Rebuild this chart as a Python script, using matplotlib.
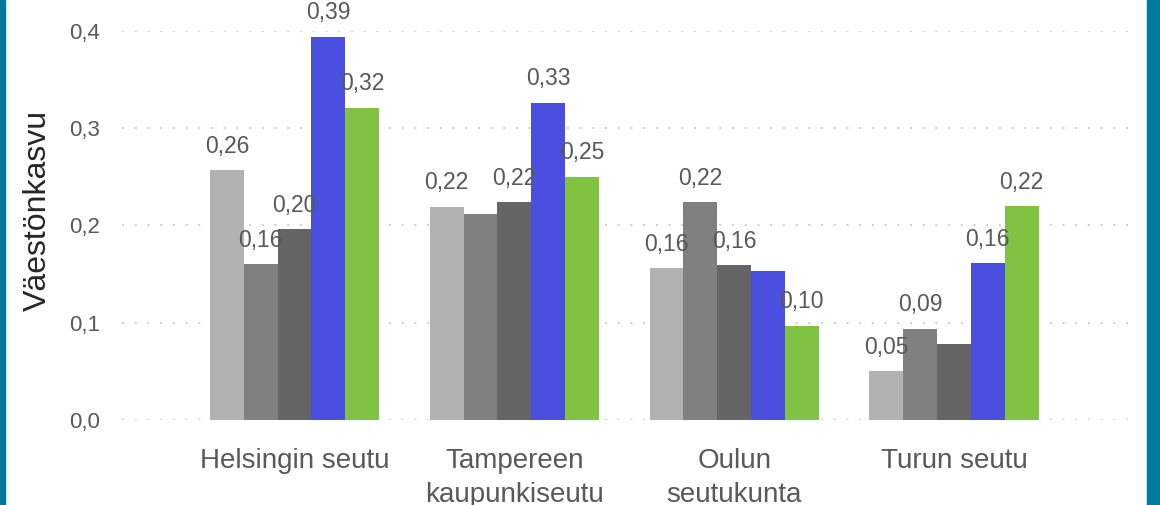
import matplotlib
matplotlib.use("Agg")
import matplotlib.pyplot as plt
import numpy as np
from matplotlib.patches import Rectangle

plt.rcParams['font.family'] = ['Liberation Sans', 'DejaVu Sans']

# categories and the five series
regions = ["Helsingin seutu", "Tampereen\nkaupunkiseutu", "Oulun\nseutukunta", "Turun seutu"]
s1 = [0.257, 0.219, 0.156, 0.050]
s2 = [0.160, 0.212, 0.224, 0.094]
s3 = [0.196, 0.224, 0.159, 0.078]
s4 = [0.394, 0.326, 0.153, 0.161]
s5 = [0.321, 0.250, 0.097, 0.220]
series = [s1, s2, s3, s4, s5]
colors = ["#B2B2B2", "#808080", "#656565", "#4B4FDF", "#80C242"]
# which data labels are visible in the original (one row per series)
show_label = [
    [True, True, True, True],
    [True, False, True, True],
    [True, True, True, False],
    [True, True, False, True],
    [True, True, True, True],
]
yticks = [0.0, 0.1, 0.2, 0.3, 0.4]

fig = plt.figure(figsize=(11.6, 5.05), dpi=100)
ax = fig.add_axes([122/1160, 85/505, 1010/1160, 389/505])

x = np.arange(len(regions))
group_w = 0.77
bw = group_w / len(series)
for i, (vals, col) in enumerate(zip(series, colors)):
    xs = x - group_w/2 + bw*(i + 0.5)
    ax.bar(xs, vals, width=bw, color=col, zorder=3)
    for xi, v, show in zip(xs, vals, show_label[i]):
        if show:
            ax.annotate(f"{v:.2f}".replace(".", ","), (xi, v), xytext=(0, 17.3),
                        textcoords="offset points", ha="center", va="center",
                        fontsize=16.5, color="#595959", zorder=4)

ax.set_xlim(-0.785, 3.81)
ax.set_ylim(0, 0.4)
ax.set_yticks(yticks)
ax.set_yticklabels([f"{t:.1f}".replace(".", ",") for t in yticks], fontsize=16, color="#595959")
ax.set_xticks(x)
ax.set_xticklabels(regions, fontsize=20, color="#595959", linespacing=1.4)
ax.tick_params(axis="both", length=0)
ax.tick_params(axis="y", pad=16)
ax.tick_params(axis="x", pad=20)
for sp in ax.spines.values():
    sp.set_visible(False)
ax.yaxis.grid(True, color="#D0D0D0", linestyle=(0, (1, 5.1)), linewidth=1.5, zorder=0)
ax.set_axisbelow(True)

fig.text(38/1160, 1 - 210/505, "Väestönkasvu", rotation=90, ha="center", va="center",
         fontsize=23, color="#262626")

# teal frame edges
fig.patches.append(Rectangle((0, 0), 5/1160, 1, transform=fig.transFigure, color="#00799C", zorder=10))
fig.patches.append(Rectangle((1147/1160, 0), 13/1160, 1, transform=fig.transFigure, color="#00799C", zorder=10))

fig.savefig("out.png", dpi=100)
